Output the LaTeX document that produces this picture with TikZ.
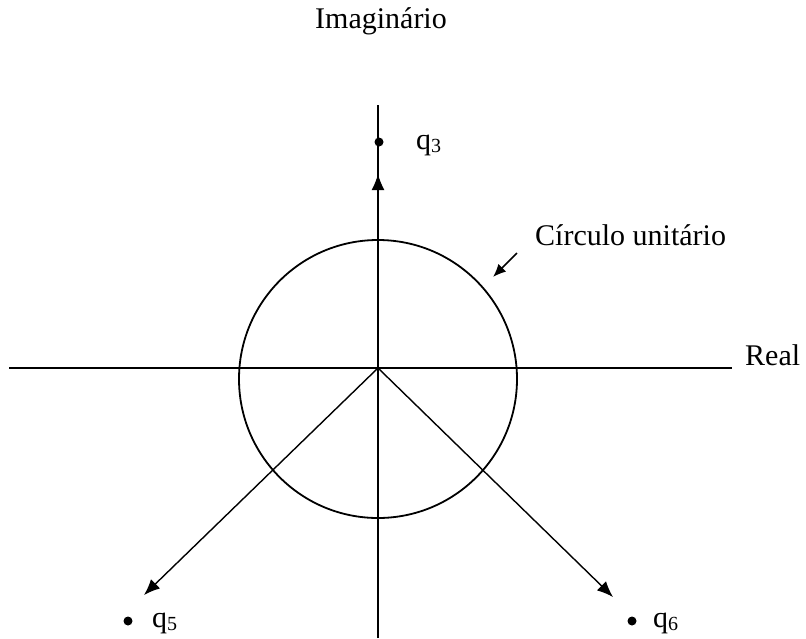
\documentclass[tikz,border=0pt]{standalone}
\usepackage{fontspec}
\setmainfont{Liberation Serif}
\usetikzlibrary{arrows.meta}
\newcommand{\qlab}[1]{q\raisebox{-3pt}{\fontsize{20}{24}\selectfont #1}}
\begin{document}
\begin{tikzpicture}[x=1pt,y=-1pt,
  axis/.style={line width=1.9pt,black},
  ray/.style={line width=1.4pt,black,-{Latex[length=16pt,width=13pt]}},
  lbl/.style={font=\fontsize{30}{36}\selectfont,inner sep=0pt},
  dotmark/.style={circle,fill=black,inner sep=0pt,minimum size=9pt}]
\useasboundingbox (0,0) rectangle (806,638);
% coordinates
\coordinate (O) at (378,368);
\coordinate (hl) at (9,368);
\coordinate (hr) at (732,368);
\coordinate (vt) at (378,105);
\coordinate (vb) at (378,638);
\coordinate (t3) at (378,174);
\coordinate (t5) at (144,595);
\coordinate (t6) at (613,597);
\coordinate (cc) at (378,379);
\coordinate (sa) at (517,253);
\coordinate (sb) at (493,277);
% axes
\draw[axis] (hl) -- (hr);
\draw[axis] (vb) -- (vt);
% circle
\draw[line width=1.8pt] (cc) circle[radius=139];
% rays
\draw[ray] (O) -- (t3);
\draw[ray] (O) -- (t5);
\draw[ray] (O) -- (t6);
% small pointer arrow
\draw[line width=1.7pt,-{Latex[length=13pt,width=11pt]}] (sa) -- (sb);
% dots
\node[dotmark] (d3) at (379,142) {};
\node[dotmark] (d5) at (128,621) {};
\node[dotmark] (d6) at (632,621) {};
% labels
\node[lbl,anchor=base west] (q3) at (416,149) {\qlab{3}};
\node[lbl,anchor=base west] (q5) at (152,627) {\qlab{5}};
\node[lbl,anchor=base west] (q6) at (653,627) {\qlab{6}};
\node[lbl,anchor=base] (im) at (381,28) {Imaginário};
\node[lbl,anchor=base west] (re) at (745,365) {Real};
\node[lbl,anchor=base west] (cu) at (535,245) {Círculo unitário};
\end{tikzpicture}
\end{document}
